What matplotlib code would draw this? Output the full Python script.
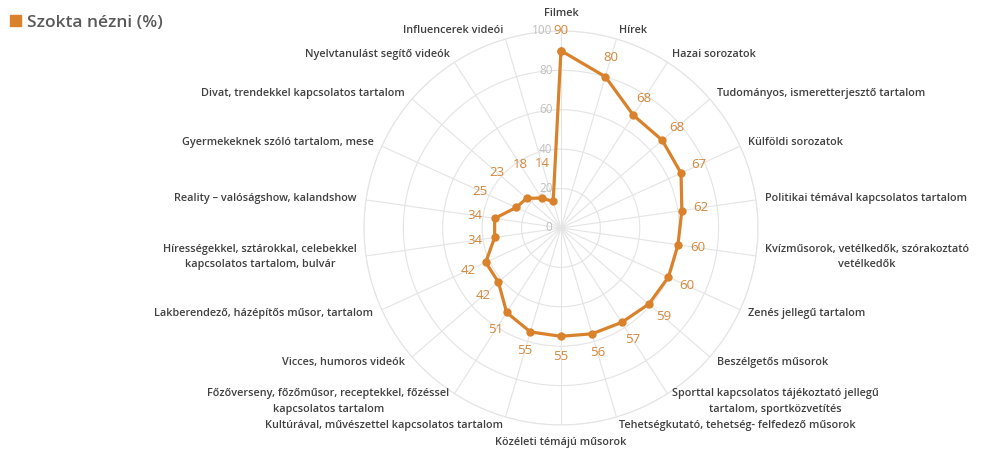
import numpy as np
import matplotlib
matplotlib.use('Agg')
import matplotlib.pyplot as plt
from matplotlib.patches import Patch

# Categories, clockwise from the top
categories = [
    'Filmek',
    'Hírek',
    'Hazai sorozatok',
    'Tudományos, ismeretterjesztő tartalom',
    'Külföldi sorozatok',
    'Politikai témával kapcsolatos tartalom',
    'Kvízműsorok, vetélkedők, szórakoztató\nvetélkedők',
    'Zenés jellegű tartalom',
    'Beszélgetős műsorok',
    'Sporttal kapcsolatos tájékoztató jellegű\ntartalom, sportközvetítés',
    'Tehetségkutató, tehetség- felfedező műsorok',
    'Közéleti témájú műsorok',
    'Kultúrával, művészettel kapcsolatos tartalom',
    'Főzőverseny, főzőműsor, receptekkel, főzéssel\nkapcsolatos tartalom',
    'Vicces, humoros videók',
    'Lakberendező, házépítős műsor, tartalom',
    'Hírességekkel, sztárokkal, celebekkel\nkapcsolatos tartalom, bulvár',
    'Reality – valóságshow, kalandshow',
    'Gyermekeknek szóló tartalom, mese',
    'Divat, trendekkel kapcsolatos tartalom',
    'Nyelvtanulást segítő videók',
    'Influencerek videói',
]
values = [90, 80, 68, 68, 67, 62, 60, 60, 59, 57, 56, 55, 55, 51, 42, 42, 34, 34, 25, 23, 18, 14]
radial_ticks = [0, 20, 40, 60, 80, 100]
series_name = 'Szokta nézni (%)'

orange = '#D9822B'
label_orange = '#D4873A'
text_gray = '#404040'
grid_gray = '#E4E4E4'
font = 'Open Sans'

n = len(categories)
theta = np.arange(n) * 2 * np.pi / n

fig = plt.figure(figsize=(10.08, 4.55), dpi=100)
ax = fig.add_axes([0.361, 0.066, 0.391, 0.866], projection='polar')
ax.set_theta_zero_location('N')
ax.set_theta_direction(-1)
ax.set_ylim(0, 100)

# grid
ax.set_xticks(theta)
ax.set_xticklabels([])
ax.set_yticks(radial_ticks)
ax.set_yticklabels([])
ax.grid(color=grid_gray, linewidth=0.8)
ax.spines['polar'].set_color(grid_gray)
ax.spines['polar'].set_linewidth(0.8)
ax.tick_params(length=0)

# radial axis labels next to the top spoke
for t in radial_ticks:
    ax.annotate(str(t), xy=(0, t), xytext=(-6, 0), textcoords='offset points',
                ha='right', va='center', fontsize=8.5, color='#BFBFBF', family=font)

# the series
th = np.append(theta, theta[0])
vals = np.append(values, values[0])
ax.plot(th, vals, color=orange, linewidth=2.3, marker='o', markersize=5,
        markerfacecolor=orange, markeredgecolor=orange, zorder=3)

# data labels, pushed further out for the small values
for a, v in zip(theta, values):
    r = v + (20 if v < 30 else 10)
    ax.text(a, r, str(v), ha='center', va='center', fontsize=9.5,
            color=label_orange, family=font, zorder=4)

# category labels around the outside
for a, c in zip(theta, categories):
    s, co = np.sin(a), np.cos(a)
    if abs(s) < 0.01:
        ha = 'center'
        va = 'bottom' if co > 0 else 'top'
        r = 106
    else:
        ha = 'left' if s > 0 else 'right'
        va = 'center'
        r = 104.6
    ax.text(a, r, c, ha=ha, va=va, fontsize=7.8, color=text_gray, family=font,
            fontweight='semibold', multialignment='center', linespacing=1.55)

# legend in the top-left corner
fig.legend(handles=[Patch(facecolor=orange, edgecolor=orange, label=series_name)],
           loc='upper left', bbox_to_anchor=(0.0, 0.99), frameon=False,
           handlelength=0.6, handleheight=0.6, handletextpad=0.35, borderaxespad=0.2,
           prop={'family': font, 'size': 12.5, 'weight': 'semibold'}, labelcolor='#595959')

fig.savefig('out.png', dpi=100)
